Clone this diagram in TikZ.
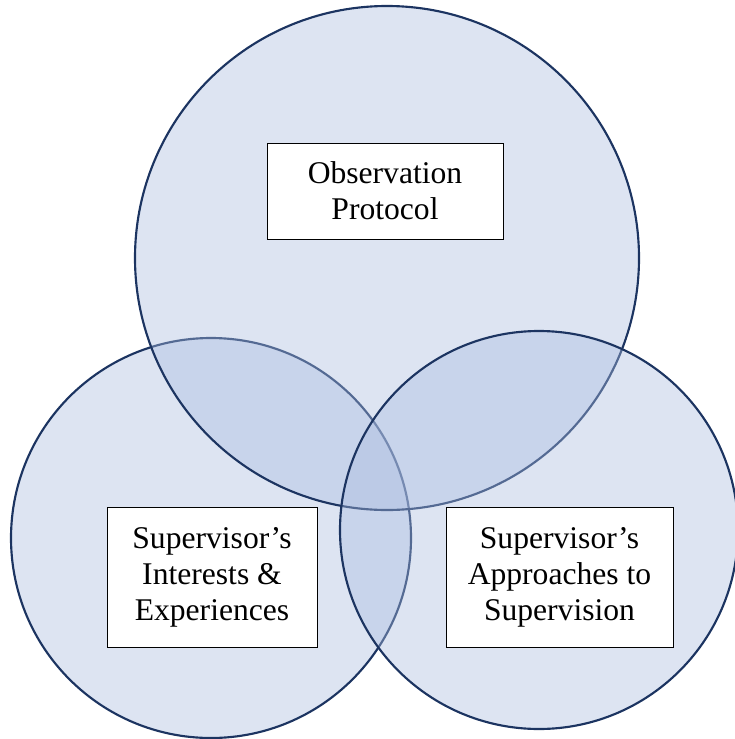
\documentclass[tikz,border=0pt]{standalone}
\usepackage{fontspec}
\setmainfont{Liberation Serif}
\usepackage{tikz}
\usetikzlibrary{positioning}
\usepackage{xcolor}
\definecolor{ringfill}{HTML}{A9BBDF}
\definecolor{ringline}{HTML}{1C3461}

\begin{document}
\begin{tikzpicture}[
  x=0.75pt, y=-0.75pt,
  venn/.style={circle, draw=ringline, line width=1.6pt, fill=ringfill, fill opacity=0.4, inner sep=0pt},
  tag/.style={draw=black, line width=0.7pt, fill=white, align=center, inner sep=0pt,
    font=\fontsize{23.7}{27}\selectfont}
]
\useasboundingbox (0,0) rectangle (735,739);

% Three overlapping areas (drawn in this order so the later fills veil the earlier rims)
\node[venn, minimum size=300pt] (interests) at (211,538) {};
\node[venn, minimum size=378pt] (observation) at (387,258) {};
\node[venn, minimum size=298.5pt] (approaches) at (539,530) {};

% Captions in white boxes
\node[tag, minimum width=177pt, minimum height=72pt] (obsText) at (385,191) {Observation\\Protocol};
\node[tag, minimum width=157.5pt, minimum height=105pt] (intText) at (212,577) {Supervisor's\\Interests \&\\Experiences};
\node[tag, minimum width=170.25pt, minimum height=105pt] (appText) at (559.5,577) {Supervisor's\\Approaches to\\Supervision};

\end{tikzpicture}
\end{document}
